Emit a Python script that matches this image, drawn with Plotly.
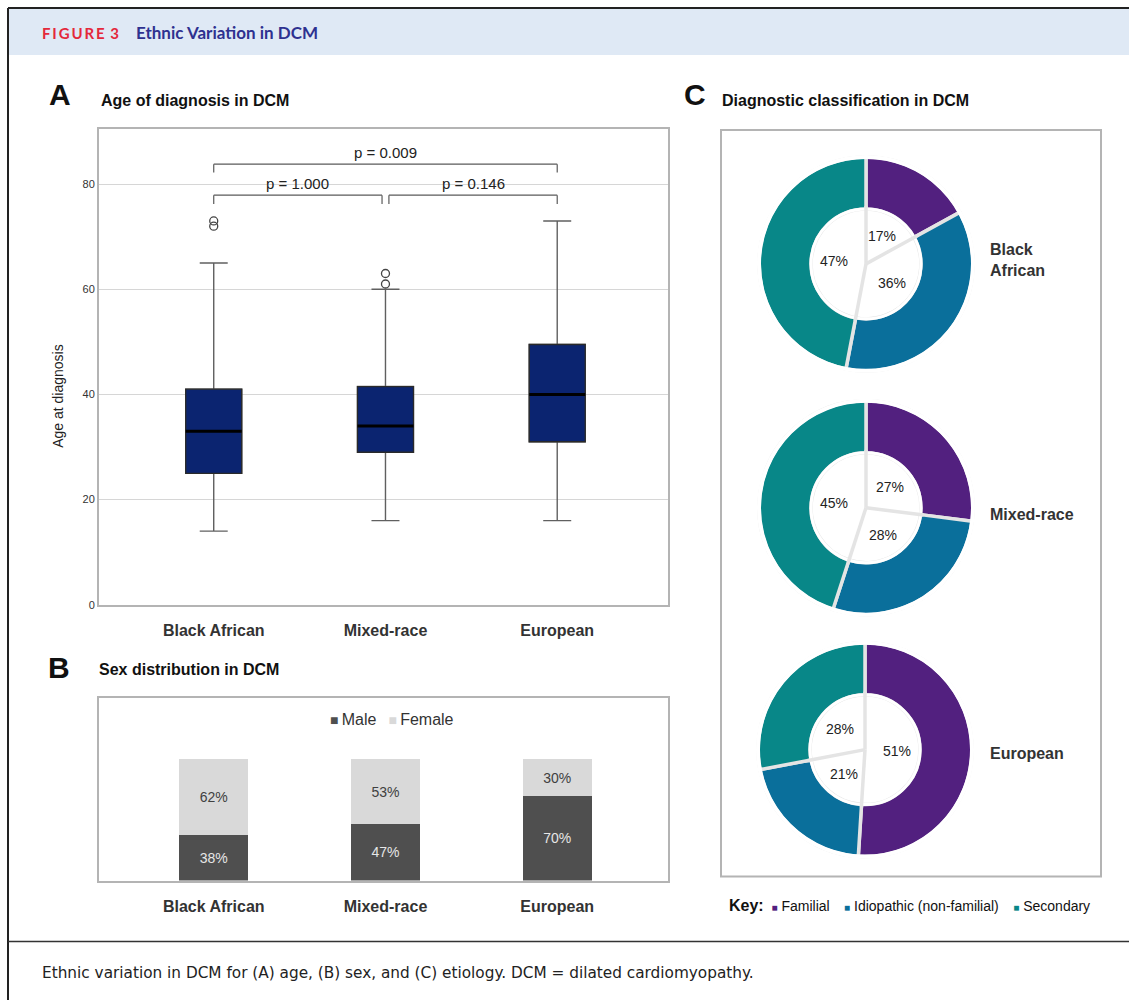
import math
import plotly.graph_objects as go

W, H = 1129, 1006
# the captured page comes out very slightly squeezed vertically; stretch rows to compensate
ROW_SCALE = 1.0055
SANS = "Liberation Sans, Arial, Helvetica, sans-serif"
HEAD_FONT = "Lato, Open Sans, sans-serif"
CAPTION_FONT = "DejaVu Sans, Verdana, sans-serif"


def fx(px):
    """Pixel column -> paper x."""
    return px / W


def fy(py):
    """Pixel row (from top) -> paper y."""
    return 1 - py * ROW_SCALE / H


# ---------------- Panel A: age at diagnosis ----------------
groups = ["Black African", "Mixed-race", "European"]
age_min = [14, 16, 16]
age_q1 = [25, 29, 31]
age_median = [33, 34, 40]
age_q3 = [41, 41.5, 49.5]
age_max = [65, 60, 73]
outlier_group = ["Black African", "Black African", "Mixed-race", "Mixed-race"]
outlier_age = [72, 73, 61, 63]

# pairwise tests: (left group index, right group index, label)
comparisons = [(0, 1, "p = 1.000"), (1, 2, "p = 0.146"), (0, 2, "p = 0.009")]
bracket_levels = [77.9, 77.9, 83.8]
age_ticks = [0, 20, 40, 60, 80]

# ---------------- Panel B: sex distribution ----------------
sexes = ["Male", "Female"]
sex_colors = ["#4f4f4f", "#d9d9d9"]
male_pct = [38, 47, 70]
female_pct = [62, 53, 30]

# ---------------- Panel C: diagnostic classification ----------------
etiology = ["Familial", "Idiopathic (non-familial)", "Secondary"]
etiology_colors = ["#52207f", "#0a6f9b", "#088788"]
black_african_etiology = [17, 36, 47]
mixed_race_etiology = [27, 28, 45]
european_etiology = [51, 21, 28]

fig = go.Figure()

# whiskers (grey)
fig.add_trace(go.Box(
    x=groups, q1=age_q1, median=age_median, q3=age_q3,
    lowerfence=age_min, upperfence=age_max,
    fillcolor="rgba(0,0,0,0)", line=dict(color="#606060", width=1.4),
    whiskerwidth=0.5, width=0.326, boxpoints=False,
    xaxis="x", yaxis="y", showlegend=False, hoverinfo="skip",
))
# box bodies
fig.add_trace(go.Box(
    x=groups, q1=age_q1, median=age_median, q3=age_q3,
    lowerfence=age_q1, upperfence=age_q3,
    fillcolor="#0b2470", line=dict(color="#2a2a2a", width=1.3),
    whiskerwidth=0, width=0.326, boxpoints=False,
    xaxis="x", yaxis="y", showlegend=False, hoverinfo="skip",
))
# medians
fig.add_trace(go.Box(
    x=groups, q1=age_median, median=age_median, q3=age_median,
    lowerfence=age_median, upperfence=age_median,
    fillcolor="rgba(0,0,0,0)", line=dict(color="#000000", width=3),
    whiskerwidth=0, width=0.326, boxpoints=False,
    xaxis="x", yaxis="y", showlegend=False, hoverinfo="skip",
))
# outliers
fig.add_trace(go.Scatter(
    x=outlier_group, y=outlier_age, mode="markers",
    marker=dict(symbol="circle-open", size=8, color="#444444", line=dict(width=1.3)),
    xaxis="x", yaxis="y", showlegend=False, hoverinfo="y",
))

# stacked sex distribution
for sex, pct, color, txt in zip(sexes, [male_pct, female_pct], sex_colors, ["#e6e6e6", "#404040"]):
    fig.add_trace(go.Bar(
        x=groups, y=pct, name=sex, width=0.40,
        marker=dict(color=color, line=dict(width=0)),
        text=[f"{v}%" for v in pct], textposition="inside",
        insidetextanchor="middle", textangle=0,
        textfont=dict(color=txt, size=14, family=SANS),
        xaxis="x2", yaxis="y2", showlegend=False,
    ))

# donuts
donut_sets = [
    ("Black<br>African", black_african_etiology, (866, 264), 260),
    ("Mixed-race", mixed_race_etiology, (866, 508), 515),
    ("European", european_etiology, (865, 750), 754),
]
R_OUT = 107
R_HOLE = 55
SEP = "#e4e4e4"

ring_masks = []
hole_lines = []
annotations = []

for name, vals, (cx, cy), label_y in donut_sets:
    fig.add_trace(go.Pie(
        labels=etiology, values=vals, sort=False, direction="clockwise",
        rotation=0, hole=R_HOLE / R_OUT, textinfo="none",
        marker=dict(colors=etiology_colors, line=dict(color=SEP, width=3.5)),
        domain=dict(x=[fx(cx - R_OUT), fx(cx + R_OUT)],
                    y=[fy(cy + R_OUT), fy(cy - R_OUT)]),
        showlegend=False, hoverinfo="label+percent",
    ))
    # white rims hide the slice outlines on the outer and inner arcs
    for r, w in [(R_OUT, 4), (R_HOLE, 3)]:
        ring_masks.append(dict(
            type="circle", xref="paper", yref="paper",
            x0=fx(cx - r), x1=fx(cx + r), y0=fy(cy + r), y1=fy(cy - r),
            line=dict(color="white", width=w), fillcolor="rgba(0,0,0,0)",
        ))
    total = sum(vals)
    cum = 0
    for v in vals:
        start = cum / total * 2 * math.pi
        mid = (cum + v / 2) / total * 2 * math.pi
        # slice border continued through the hole to the centre
        hole_lines.append(dict(
            type="line", xref="paper", yref="paper",
            x0=fx(cx), y0=fy(cy),
            x1=fx(cx + (R_HOLE + 3) * math.sin(start)),
            y1=fy(cy - (R_HOLE + 3) * math.cos(start)),
            line=dict(color=SEP, width=3.5),
        ))
        annotations.append(dict(
            xref="paper", yref="paper", xanchor="center", yanchor="middle",
            x=fx(cx + 32 * math.sin(mid)), y=fy(cy - 32 * math.cos(mid)),
            text=f"{v}%", showarrow=False,
            font=dict(size=14, color="#222222", family=SANS),
        ))
        cum += v
    annotations.append(dict(
        xref="paper", yref="paper", x=fx(988), y=fy(label_y),
        xanchor="left", yanchor="middle", align="left", text=f"<b>{name}</b>",
        showarrow=False, font=dict(size=16, color="#333333", family=SANS),
    ))

shapes = ring_masks + hole_lines

# significance brackets on panel A
for (i, j, label), level in zip(comparisons, bracket_levels):
    x0 = i + (0.02 if i == 1 else 0)
    x1 = j - (0.02 if j == 1 else 0)
    drop = level - (1.6 if level > 80 else 1.7)
    for (ax, ay, bx, by) in [(x0, drop, x0, level), (x0, level, x1, level), (x1, level, x1, drop)]:
        shapes.append(dict(type="line", xref="x", yref="y", x0=ax, y0=ay, x1=bx, y1=by,
                           line=dict(color="#5a5a5a", width=1.2)))
    annotations.append(dict(
        xref="x", yref="y", x=(x0 + x1) / 2, y=level + 2.2, yanchor="middle", xanchor="center",
        text=label, showarrow=False, font=dict(size=15, color="#222222", family=SANS),
    ))

# figure furniture: header band, frame lines, panel C box
shapes += [
    dict(type="rect", xref="paper", yref="paper", x0=fx(8), x1=1, y0=fy(55), y1=fy(8),
         fillcolor="#dfe9f5", line=dict(width=0), layer="below"),
    dict(type="line", xref="paper", yref="paper", x0=fx(8), x1=1, y0=fy(8), y1=fy(8),
         line=dict(color="#222222", width=2)),
    dict(type="line", xref="paper", yref="paper", x0=fx(8), x1=fx(8), y0=fy(8), y1=0,
         line=dict(color="#222222", width=2)),
    dict(type="line", xref="paper", yref="paper", x0=fx(8), x1=1, y0=fy(942), y1=fy(942),
         line=dict(color="#333333", width=1.5)),
    dict(type="rect", xref="paper", yref="paper", x0=fx(721), x1=fx(1101), y0=fy(877), y1=fy(130),
         line=dict(color="#b4b4b4", width=2)),
]

key_parts = "   \u2009".join(
    f"<span style='color:{c};font-size:10px'>■</span> {lab}" for lab, c in zip(etiology, etiology_colors)
)
sex_key = "  \u2009".join(
    f"<span style='color:{c};font-size:14px'>■</span>\u2009{lab}" for lab, c in zip(sexes, sex_colors)
)

annotations += [
    dict(xref="paper", yref="paper", x=fx(40), y=fy(33), xanchor="left", yanchor="middle",
         text="<b>F\u2009I\u2009G\u2009U\u2009R\u2009E\u2009 3</b>", showarrow=False,
         font=dict(size=15, color="#e4283b", family=HEAD_FONT)),
    dict(xref="paper", yref="paper", x=fx(134), y=fy(33), xanchor="left", yanchor="middle",
         text="<b>Ethnic Variation in DCM</b>", showarrow=False,
         font=dict(size=17, color="#2e3190", family=HEAD_FONT)),
    dict(xref="paper", yref="paper", x=fx(47), y=fy(95), xanchor="left", yanchor="middle",
         text="<b>A</b>", showarrow=False, font=dict(size=30, color="#111111", family=SANS)),
    dict(xref="paper", yref="paper", x=fx(99), y=fy(101), xanchor="left", yanchor="middle",
         text="<b>Age of diagnosis in DCM</b>", showarrow=False,
         font=dict(size=16, color="#111111", family=SANS)),
    dict(xref="paper", yref="paper", x=fx(58), y=fy(396), xanchor="center", yanchor="middle",
         text="Age at diagnosis", textangle=-90, showarrow=False,
         font=dict(size=14, color="#222222", family=SANS)),
    dict(xref="paper", yref="paper", x=fx(46), y=fy(668), xanchor="left", yanchor="middle",
         text="<b>B</b>", showarrow=False, font=dict(size=30, color="#111111", family=SANS)),
    dict(xref="paper", yref="paper", x=fx(97), y=fy(670), xanchor="left", yanchor="middle",
         text="<b>Sex distribution in DCM</b>", showarrow=False,
         font=dict(size=16, color="#111111", family=SANS)),
    dict(xref="paper", yref="paper", x=fx(392), y=fy(720), xanchor="center", yanchor="middle",
         text=sex_key, showarrow=False, font=dict(size=16, color="#333333", family=SANS)),
    dict(xref="paper", yref="paper", x=fx(682), y=fy(95), xanchor="left", yanchor="middle",
         text="<b>C</b>", showarrow=False, font=dict(size=30, color="#111111", family=SANS)),
    dict(xref="paper", yref="paper", x=fx(720), y=fy(101), xanchor="left", yanchor="middle",
         text="<b>Diagnostic classification in DCM</b>", showarrow=False,
         font=dict(size=16, color="#111111", family=SANS)),
    dict(xref="paper", yref="paper", x=fx(727), y=fy(906), xanchor="left", yanchor="middle",
         text="<b style='font-size:16px'>Key:</b>  " + key_parts, showarrow=False,
         font=dict(size=14, color="#111111", family=SANS)),
    dict(xref="paper", yref="paper", x=fx(40), y=fy(973), xanchor="left", yanchor="middle",
         text="Ethnic variation in DCM for (A) age, (B) sex, and (C) etiology. DCM = dilated cardiomyopathy.",
         showarrow=False, font=dict(size=15.3, color="#222222", family=CAPTION_FONT)),
]

frame = dict(showline=True, mirror=True, linecolor="#b4b4b4", linewidth=2)
x_range = [-0.668, 2.645]

fig.update_layout(
    width=W, height=H, margin=dict(l=0, r=0, t=0, b=0),
    paper_bgcolor="white", plot_bgcolor="white",
    font=dict(family=SANS, color="#222222"),
    boxmode="overlay", barmode="stack",
    xaxis=dict(domain=[fx(99), fx(668)], range=x_range, anchor="y",
               categoryorder="array", categoryarray=groups,
               ticks="", ticklabelstandoff=10, showgrid=False, zeroline=False,
               tickfont=dict(size=16, color="#333333", weight="bold"), **frame),
    yaxis=dict(domain=[fy(605), fy(129)], range=[0, 90.5], anchor="x",
               tickvals=age_ticks, ticks="", showgrid=True, gridcolor="#d6d6d6", gridwidth=1.3,
               zeroline=False, tickfont=dict(size=11, color="#333333"), **frame),
    xaxis2=dict(domain=[fx(99), fx(668)], range=x_range, anchor="y2",
                categoryorder="array", categoryarray=groups,
                ticks="", ticklabelstandoff=10, showgrid=False, zeroline=False,
                tickfont=dict(size=16, color="#333333", weight="bold"), **frame),
    yaxis2=dict(domain=[fy(881), fy(698)], range=[0, 151], anchor="x2",
                showticklabels=False, ticks="", showgrid=False, zeroline=False, **frame),
    showlegend=False,
    shapes=shapes,
    annotations=annotations,
)

fig.write_html("out.html")
